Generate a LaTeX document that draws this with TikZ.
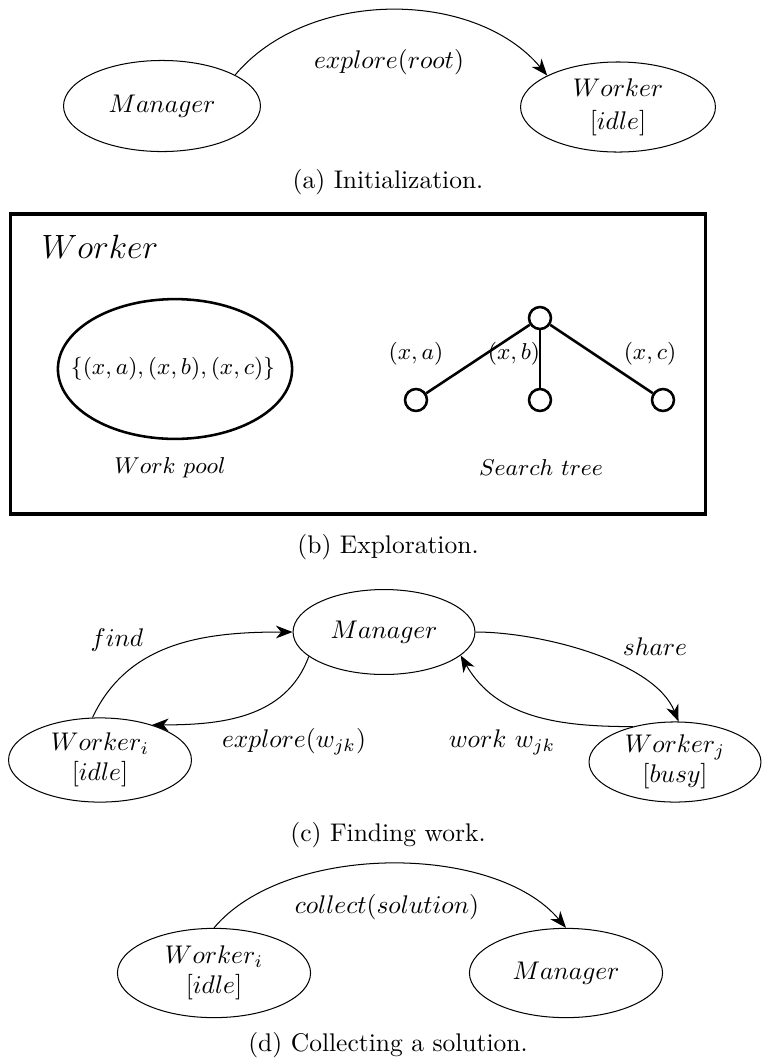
\documentclass[tikz,border=0pt]{standalone}
\usepackage{amsmath,amssymb}
\usepackage{tikz}
\usetikzlibrary{shapes,arrows.meta,positioning,calc}

\tikzset{
  state/.style={draw, ellipse, inner sep=0pt, align=center},
  flow/.style={-{Stealth[length=6.5pt,width=5pt,inset=2pt]}},
  heavy/.style={line width=1pt},
  treenode/.style={draw, heavy, circle, minimum size=8.6pt, inner sep=0pt},
}

\begin{document}
\begin{tikzpicture}[x=0.392pt, y=0.392pt]
\useasboundingbox (0,0) rectangle (761,-1061);

% (a) initialization
\node[state, minimum width=77.2pt, minimum height=35.7pt] (mgrA) at (162,-106) {$Manager$};
\node[state, minimum width=76.4pt, minimum height=35.3pt] (wrkA) at (618,-107) {$Worker$\\[1pt]$[idle]$};
\draw[flow] (mgrA.23) to[out=50,in=130,looseness=0.93] (wrkA.156);
\node (lblA) at (389,-62) {$explore(root)$};
\node (capA) at (388,-182) {(a) Initialization.};

% (b) exploration
\node[draw, line width=1.2pt, minimum width=272.8pt, minimum height=117.6pt, inner sep=0pt] (wbox) at (358,-364) {};
\node[font=\large] (wtitle) at (100,-247) {\scalebox{1.1}{$Worker$}};
\node[font=\small] (pool) at (173,-369) {$\{(x,a),(x,b),(x,c)\}$};
\draw[heavy] (175,-369) ellipse [x radius=45.9pt, y radius=27.4pt];
\node[font=\small] (poolname) at (170,-468) {$Work\ pool$};

\node[treenode] (root) at (540,-318) {};
\node[treenode] (leafA) at (416,-400) {};
\node[treenode] (leafB) at (540,-400) {};
\node[treenode] (leafC) at (663,-400) {};
\draw[heavy] (root) -- (leafA);
\draw[heavy] (root) -- (leafB);
\draw[heavy] (root) -- (leafC);
\node[font=\small] (edgeA) at (416,-354) {$(x,a)$};
\node[font=\small] (edgeB) at (514,-354) {$(x,b)$};
\node[font=\small] (edgeC) at (650,-354) {$(x,c)$};
\node[font=\small] (treename) at (541,-468) {$Search\ tree$};
\node (capB) at (388,-547) {(b) Exploration.};

% (c) finding work
\node[state, minimum width=71.3pt, minimum height=33.3pt] (mgrC) at (384,-632) {$Manager$};
\node[state, minimum width=71.7pt, minimum height=33pt] (wrkI) at (100,-760) {$Worker_i$\\$[idle]$};
\node[state, minimum width=67.4pt, minimum height=31.4pt] (wrkJ) at (675,-762) {$Worker_j$\\$[busy]$};
\draw[flow] (wrkI.100) to[out=65,in=180] (mgrC.west);
\draw[flow] (mgrC.198) to[out=250,in=0] (wrkI.34);
\draw[flow] (mgrC.east) to[out=0,in=112,looseness=0.75] (wrkJ.85);
\draw[flow] (wrkJ.140) to[out=180,in=300] (mgrC.343);
\node (lblFind) at (117,-640) {$find$};
\node (lblExpl) at (294,-742) {$explore(w_{jk})$};
\node (lblShare) at (655,-647) {$share$};
\node (lblWork) at (502,-742) {$work\ w_{jk}$};
\node (capC) at (388,-835) {(c) Finding work.};

% (d) collecting a solution
\node[state, minimum width=75.7pt, minimum height=35pt] (wrkD) at (214,-973) {$Worker_i$\\$[idle]$};
\node[state, minimum width=75.7pt, minimum height=35pt] (mgrD) at (566,-973) {$Manager$};
\draw[flow] (wrkD.north) to[out=50,in=130,looseness=0.81] (mgrD.north);
\node (lblColl) at (387,-907) {$collect(solution)$};
\node (capD) at (388,-1045) {(d) Collecting a solution.};
\end{tikzpicture}
\end{document}
